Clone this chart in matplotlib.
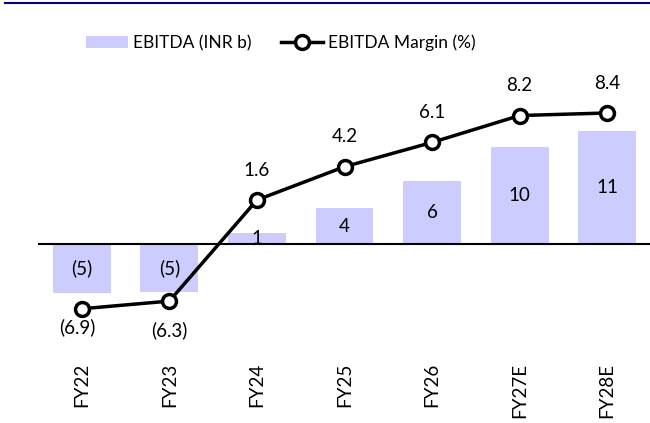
import numpy as np
import matplotlib
matplotlib.use("Agg")
import matplotlib.pyplot as plt
from matplotlib.lines import Line2D

plt.rcParams['font.family'] = ['Lato', 'DejaVu Sans']

years = ["FY22", "FY23", "FY24", "FY25", "FY26", "FY27E", "FY28E"]
ebitda = [-4.9, -4.8, 1.1, 3.6, 6.3, 9.7, 11.3]
ebitda_lbl = ["(5)", "(5)", "1", "4", "6", "10", "11"]
margin = [-6.9, -6.3, 1.6, 4.2, 6.1, 8.2, 8.4]
margin_lbl = ["(6.9)", "(6.3)", "1.6", "4.2", "6.1", "8.2", "8.4"]
# label offsets (points) for the margin labels
lbl_dx = [-3, 0, 0, 0, 0, 0, 0]
lbl_dy = [-13, -21, 21.5, 21.5, 21.5, 21.5, 21.5]

fs = 13.5
fig = plt.figure(figsize=(6.5, 4.23), dpi=100)
ax = fig.add_axes([38/650, (423-335)/423, 613/650, 275/423])
ax2 = ax.twinx()

x = np.arange(len(years))
ax.bar(x, ebitda, width=0.66, color="#CCCCFF", label="EBITDA (INR b)", zorder=1)
ax.axhline(0, color="black", lw=1.5, zorder=2)
for i in range(len(x)):
    ax.text(x[i], ebitda[i]/2, ebitda_lbl[i], ha="center", va="center", fontsize=fs)

ax2.plot(x, margin, color="black", lw=2.5, marker="o", ms=10, mfc="white",
         mec="black", mew=2.5, label="EBITDA Margin (%)", zorder=3)
for i in range(len(x)):
    ax2.annotate(margin_lbl[i], (x[i], margin[i]), xytext=(lbl_dx[i], lbl_dy[i]),
                 textcoords="offset points", ha="center", va="center", fontsize=fs)

ax.set_xlim(-0.5, 6.5)
ax.set_ylim(-9.1, 18.4)
ax2.set_ylim(-8.95, 12.54)
ax.set_xticks(x)
ax.set_xticklabels(years, rotation=90, fontsize=fs)
ax.tick_params(axis="x", length=0, pad=20)
ax.set_yticks([])
ax2.set_yticks([])
for a in (ax, ax2):
    for s in a.spines.values():
        s.set_visible(False)

# legend
h1, l1 = ax.get_legend_handles_labels()
h2, l2 = ax2.get_legend_handles_labels()
fig.legend(h1 + h2, l1 + l2, loc="center", bbox_to_anchor=(281/650, 1 - 43/423),
           ncol=2, frameon=False, fontsize=12.5, handlelength=2.4,
           columnspacing=1.7, handletextpad=0.3)

# navy rule at top
fig.add_artist(Line2D([5/650, 1], [1 - 3/423, 1 - 3/423], color="#000080", lw=1.5))

fig.savefig("out.png", dpi=100)
